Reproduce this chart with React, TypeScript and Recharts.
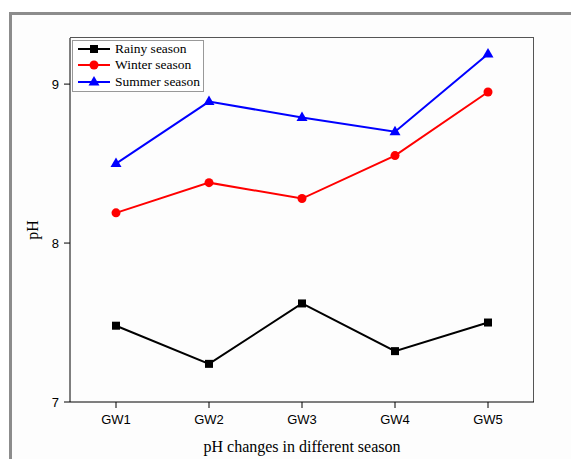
import React from "react";
import { LineChart, Line, XAxis, YAxis } from "recharts";

const sites = ["GW1", "GW2", "GW3", "GW4", "GW5"];
const rainy = [7.48, 7.24, 7.62, 7.32, 7.5];
const winter = [8.19, 8.38, 8.28, 8.55, 8.95];
const summer = [8.5, 8.89, 8.79, 8.7, 9.19];
const yTicks = [7, 8, 9];

const data = sites.map((s, i) => ({
  site: s,
  rainy: rainy[i],
  winter: winter[i],
  summer: summer[i],
}));

const Square = (props: any) => {
  const { cx, cy } = props;
  if (cx == null || cy == null) return null;
  return <rect x={cx - 4} y={cy - 4} width={8} height={8} fill="#000" />;
};

const Circle = (props: any) => {
  const { cx, cy } = props;
  if (cx == null || cy == null) return null;
  return <circle cx={cx} cy={cy} r={4.5} fill="#ff0000" />;
};

const Triangle = (props: any) => {
  const { cx, cy } = props;
  if (cx == null || cy == null) return null;
  return (
    <polygon
      points={`${cx},${cy - 6} ${cx - 5.5},${cy + 3.5} ${cx + 5.5},${cy + 3.5}`}
      fill="#0000ff"
    />
  );
};

const YLabel = (props: any) => {
  const { viewBox } = props;
  const x = viewBox.x + 38;
  const y = viewBox.y + viewBox.height / 2 + 10;
  return (
    <text
      x={x}
      y={y}
      transform={`rotate(-90, ${x}, ${y})`}
      textAnchor="middle"
      fill="#000"
      fontSize={16}
      fontFamily="'Liberation Serif', serif"
    >
      pH
    </text>
  );
};

const legendItems = [
  { name: "Rainy season", color: "#000", shape: "square" },
  { name: "Winter season", color: "#ff0000", shape: "circle" },
  { name: "Summer season", color: "#0000ff", shape: "triangle" },
];

const LegendBox = () => (
  <div
    style={{
      position: "absolute",
      left: 72,
      top: 40,
      border: "1px solid #999",
      background: "#fff",
      padding: "0 3px 1px 4px",
      fontFamily: "'Liberation Serif', serif",
      fontSize: 13.5,
      color: "#000",
      lineHeight: "16.3px",
    }}
  >
    {legendItems.map((it) => (
      <div key={it.name} style={{ display: "flex", alignItems: "center" }}>
        <svg width={34} height={12} style={{ marginRight: 4 }}>
          <line x1={1} y1={6} x2={33} y2={6} stroke={it.color} strokeWidth={2} />
          {it.shape === "square" && <rect x={13} y={2} width={8} height={8} fill={it.color} />}
          {it.shape === "circle" && <circle cx={17} cy={6} r={4.5} fill={it.color} />}
          {it.shape === "triangle" && (
            <polygon points="17,0 11.5,9.5 22.5,9.5" fill={it.color} />
          )}
        </svg>
        <span>{it.name}</span>
      </div>
    ))}
  </div>
);

export default function App() {
  return (
    <div
      style={{
        position: "absolute",
        left: 0,
        top: 0,
        width: 571,
        height: 459,
        background: "#fff",
        overflow: "hidden",
      }}
    >
      <div
        style={{
          position: "absolute",
          left: 9,
          top: 12,
          width: 600,
          height: 500,
          borderLeft: "3px solid #8c8c8c",
          borderTop: "3px solid #8c8c8c",
          background: "#fdfdfd",
        }}
      />
      {/* plot frame top/right */}
      <div
        style={{
          position: "absolute",
          left: 70,
          top: 37,
          width: 463,
          height: 364,
          borderTop: "1.5px solid #555",
          borderRight: "1.5px solid #555",
        }}
      />
      <div style={{ position: "absolute", left: 0, top: 0 }}>
        <LineChart
          width={571}
          height={459}
          data={data}
          margin={{ top: 38, right: 37, left: 0, bottom: 0 }}
        >
          <XAxis
            dataKey="site"
            height={57}
            padding={{ left: 46, right: 46 }}
            stroke="#000"
            tickLine={{ stroke: "#000" }}
            tickSize={6}
            tickMargin={7}
            tick={{ fill: "#000", fontSize: 13, fontFamily: "'Liberation Sans', Arial, sans-serif" }}
            label={{
              value: "pH changes in different season",
              position: "insideBottom",
              offset: 7,
              fill: "#000",
              fontSize: 16,
              fontFamily: "'Liberation Serif', serif",
            }}
          />
          <YAxis
            width={70}
            domain={[7, 9.29]}
            ticks={yTicks}
            allowDataOverflow
            stroke="#000"
            tickSize={6}
            tickMargin={5}
            tick={{ fill: "#000", fontSize: 13, fontFamily: "'Liberation Sans', Arial, sans-serif" }}
            label={<YLabel />}
          />
          <Line
            dataKey="rainy"
            name="Rainy season"
            stroke="#000"
            strokeWidth={2}
            dot={<Square />}
            activeDot={false}
            isAnimationActive={false}
          />
          <Line
            dataKey="winter"
            name="Winter season"
            stroke="#ff0000"
            strokeWidth={2}
            dot={<Circle />}
            activeDot={false}
            isAnimationActive={false}
          />
          <Line
            dataKey="summer"
            name="Summer season"
            stroke="#0000ff"
            strokeWidth={2}
            dot={<Triangle />}
            activeDot={false}
            isAnimationActive={false}
          />
        </LineChart>
      </div>
      <LegendBox />
    </div>
  );
}
